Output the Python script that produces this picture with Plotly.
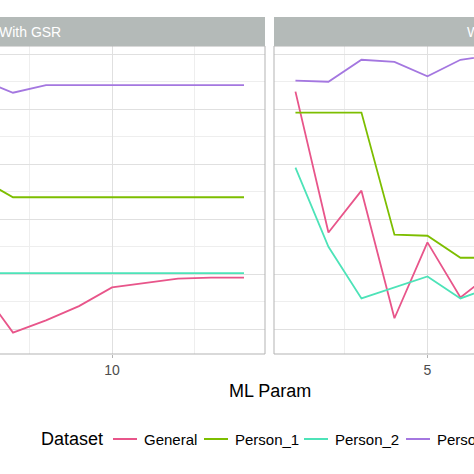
import plotly.graph_objects as go

W, H = 474, 474

# Data (x = ML Param)
datasets = ['General', 'Person_1', 'Person_2', 'Person_3']
colors   = ['#E8558A', '#7DBE00', '#4DE3B8', '#A477E0']

x_gsr        = [6, 7, 8, 9, 10, 11, 12, 13, 14]
gsr_general  = [0.638, 0.597, 0.608, 0.621, 0.638, 0.642, 0.646, 0.647, 0.647]
gsr_person_1 = [0.737, 0.720, 0.720, 0.720, 0.720, 0.720, 0.720, 0.720, 0.720]
gsr_person_2 = [0.651, 0.651, 0.651, 0.651, 0.651, 0.651, 0.651, 0.651, 0.651]
gsr_person_3 = [0.827, 0.815, 0.822, 0.822, 0.822, 0.822, 0.822, 0.822, 0.822]

x_nogsr        = [1, 2, 3, 4, 5, 6, 7]
nogsr_general  = [0.816, 0.688, 0.726, 0.610, 0.679, 0.629, 0.652]
nogsr_person_1 = [0.797, 0.797, 0.797, 0.686, 0.685, 0.665, 0.665]
nogsr_person_2 = [0.747, 0.675, 0.628, 0.638, 0.648, 0.628, 0.639]
nogsr_person_3 = [0.826, 0.825, 0.845, 0.843, 0.830, 0.845, 0.849]

panels = ['With GSR', 'Without GSR']

gsr_series   = [gsr_general, gsr_person_1, gsr_person_2, gsr_person_3]
nogsr_series = [nogsr_general, nogsr_person_1, nogsr_person_2, nogsr_person_3]


# pixel -> paper coordinates
def px_x(p):
    return p / W


def px_y(p):
    return 1 - p / H


panel_top, panel_bot = 46, 354
left_end, right_start = 265, 274
ppu = 33  # pixels per x unit

fig = go.Figure()

for name, col, ys in zip(datasets, colors, gsr_series):
    fig.add_trace(go.Scatter(x=x_gsr, y=ys, mode='lines', name=name,
                             line=dict(color=col, width=1.8),
                             xaxis='x', yaxis='y', showlegend=False))
for name, col, ys in zip(datasets, colors, nogsr_series):
    fig.add_trace(go.Scatter(x=x_nogsr, y=ys, mode='lines', name=name,
                             line=dict(color=col, width=1.8),
                             xaxis='x2', yaxis='y2', showlegend=False))

xcommon = dict(
    dtick=5, tick0=0, showgrid=True, gridcolor='#E0E0E0', gridwidth=1,
    minor=dict(dtick=2.5, tick0=0, showgrid=True, gridcolor='#EEEEEE', gridwidth=0.6),
    ticks='outside', ticklen=3, tickcolor='#B3B3B3',
    tickfont=dict(size=14, color='#4D4D4D'),
    zeroline=False, showline=False,
)
ycommon = dict(
    domain=[px_y(panel_bot), px_y(panel_top)],
    range=[0.5775, 0.8575],
    dtick=0.05, tick0=0.6, showgrid=True, gridcolor='#E0E0E0', gridwidth=1,
    minor=dict(dtick=0.025, tick0=0.6, showgrid=True, gridcolor='#EEEEEE', gridwidth=0.6),
    showticklabels=False, zeroline=False, showline=False,
)

shapes = []
annotations = []

# panel borders and strips
for x0, x1 in [(-0.5, px_x(left_end)), (px_x(right_start), 1.5)]:
    shapes.append(dict(type='rect', xref='paper', yref='paper', layer='above',
                       x0=x0, x1=x1, y0=px_y(panel_bot), y1=px_y(panel_top),
                       line=dict(color='#B3B3B3', width=1)))
    shapes.append(dict(type='rect', xref='paper', yref='paper', layer='above',
                       x0=x0, x1=x1, y0=px_y(panel_top), y1=px_y(17),
                       fillcolor='#B4BAB8', line=dict(width=0)))

# strip labels (both panels are cut by the image edges)
for label, px, anchor in zip(panels, [63, 465], ['right', 'left']):
    annotations.append(dict(text=label, xref='paper', yref='paper',
                            x=px_x(px), y=px_y(31.5), showarrow=False,
                            xanchor=anchor, yanchor='middle',
                            font=dict(size=14, color='white')))

# axis title
annotations.append(dict(text='ML Param', xref='paper', yref='paper',
                        x=px_x(270), y=px_y(391), showarrow=False,
                        xanchor='center', yanchor='middle',
                        font=dict(size=18, color='black')))

# legend (drawn by hand so it runs off the right edge like the original)
leg_y = px_y(439)
annotations.append(dict(text='Dataset', xref='paper', yref='paper',
                        x=px_x(39), y=leg_y, showarrow=False,
                        xanchor='left', yanchor='middle',
                        font=dict(size=18, color='black')))
key_starts = [113, 204, 304, 406]
for name, col, k in zip(datasets, colors, key_starts):
    shapes.append(dict(type='line', xref='paper', yref='paper',
                       x0=px_x(k), x1=px_x(k + 24), y0=leg_y, y1=leg_y,
                       line=dict(color=col, width=2)))
    annotations.append(dict(text=name, xref='paper', yref='paper',
                            x=px_x(k + 29), y=leg_y, showarrow=False,
                            xanchor='left', yanchor='middle',
                            font=dict(size=15, color='black')))

fig.update_layout(
    width=W, height=H,
    margin=dict(l=0, r=0, t=0, b=0),
    paper_bgcolor='white', plot_bgcolor='white',
    font=dict(family='Liberation Sans, Arial, sans-serif'),
    xaxis=dict(domain=[0, px_x(left_end)],
               range=[10 - 112 / ppu, 10 + (left_end - 112) / ppu], **xcommon),
    xaxis2=dict(domain=[px_x(right_start), 1],
                range=[0.35, 0.35 + (W - right_start) / ppu], **xcommon),
    yaxis=dict(anchor='x', **ycommon),
    yaxis2=dict(anchor='x2', matches='y', **ycommon),
    shapes=shapes,
    annotations=annotations,
    showlegend=False,
)

fig.write_html("out.html", config={'displayModeBar': False},
               post_script="document.body.style.margin = '0';")
